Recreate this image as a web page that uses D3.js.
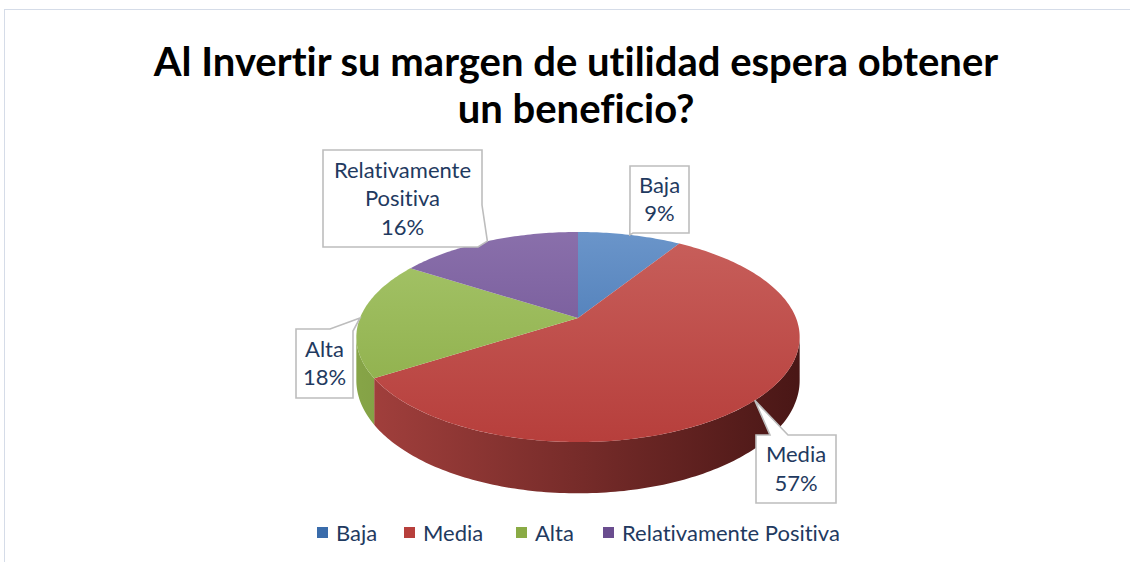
<!DOCTYPE html>
<html>
<head>
<meta charset="utf-8">
<script src="https://cdn.jsdelivr.net/npm/d3@7"></script>
<style>
  body { margin: 0; background: #fff; }
  svg { display: block; }
  text { font-family: Lato, "Open Sans", sans-serif; font-variant-ligatures: none; }
</style>
</head>
<body>
<div id="pie-chart"></div>
<script>
/* D3 3D pie chart */
const categories = ["Baja", "Media", "Alta", "Relativamente Positiva"];
const values = [9, 57, 18, 16];
const calloutLines = [["Baja"], ["Media"], ["Alta"], ["Relativamente", "Positiva"]];
const titleLines = ["Al Invertir su margen de utilidad espera obtener", "un beneficio?"];

const topColors = [["#6e98cc", "#3a6cab"], ["#c9625e", "#b73f3c"], ["#a8c76d", "#8aab45"], ["#8c72ad", "#6a4d8f"]];
const sideColors = [["#3f6ea9", "#1d3858"], ["#a3403d", "#4a1716"], ["#86a447", "#55692a"], ["#6d5090", "#3a2a4e"]];

const width = 1130, height = 562;
const cx = 578, cy = 318, rx = 218, ry = 101.6, P = 0.181, depth = 42;

const svg = d3.select("#pie-chart")
    .append("svg")
    .attr("width", width)
    .attr("height", height);

// chart area border
svg.append("rect")
    .attr("x", 4.5).attr("y", 9.5)
    .attr("width", 1200).attr("height", 700)
    .attr("fill", "none")
    .attr("stroke", "#d5dce8");

svg.append("g").selectAll("text")
    .data(titleLines)
    .join("text")
    .attr("x", 576)
    .attr("y", (d, i) => 76 + i * 47)
    .attr("text-anchor", "middle")
    .attr("font-size", 40)
    .attr("font-weight", "bold")
    .attr("fill", "#000")
    .text(d => d);

const arcs = d3.pie().sort(null).value(d => d)(values);
const total = d3.sum(values);

// perspective projection of an angle on the rim (clockwise from 12 o'clock)
function proj(a, z = 0) {
    const c = Math.sin(a), s = -Math.cos(a);
    const w = 1 / (1 - P * s);
    return [cx + rx * c * w, cy + ry * s * w + z * w];
}

function rim(a0, a1, z) {
    const n = Math.max(2, Math.ceil(Math.abs(a1 - a0) / (Math.PI / 180)));
    return d3.range(n + 1).map(i => proj(a0 + (a1 - a0) * i / n, z));
}

const defs = svg.append("defs");
arcs.forEach((d, i) => {
    const gt = defs.append("linearGradient")
        .attr("id", "top" + i)
        .attr("gradientUnits", "userSpaceOnUse")
        .attr("x1", 0).attr("y1", cy - ry)
        .attr("x2", 0).attr("y2", cy + ry * 1.2);
    gt.append("stop").attr("offset", 0).attr("stop-color", topColors[i][0]);
    gt.append("stop").attr("offset", 1).attr("stop-color", topColors[i][1]);

    const gs = defs.append("linearGradient")
        .attr("id", "side" + i)
        .attr("gradientUnits", "userSpaceOnUse")
        .attr("x1", cx - rx).attr("y1", 0)
        .attr("x2", cx + rx).attr("y2", 0);
    gs.append("stop").attr("offset", 0).attr("stop-color", sideColors[i][0]);
    gs.append("stop").attr("offset", 1).attr("stop-color", sideColors[i][1]);
});

const line = d3.line();

// visible part of the side wall
const sideStart = Math.acos(-P), sideEnd = 2 * Math.PI - Math.acos(-P);
const sides = svg.append("g");
arcs.forEach((d, i) => {
    const a0 = Math.max(d.startAngle, sideStart), a1 = Math.min(d.endAngle, sideEnd);
    if (a1 <= a0) return;
    const pts = rim(a0, a1, 0).concat(rim(a1, a0, depth));
    sides.append("path")
        .attr("d", line(pts) + "Z")
        .attr("fill", `url(#side${i})`);
});

const tops = svg.append("g");
arcs.forEach((d, i) => {
    const pts = [[cx, cy]].concat(rim(d.startAngle, d.endAngle, 0));
    tops.append("path")
        .attr("d", line(pts) + "Z")
        .attr("fill", `url(#top${i})`);
});

// callout boxes: [x0, y0, x1, y1], wedge from perimeter t1 to t2 (clockwise from top-left)
const boxes = [
    { b: [630, 166, 689, 233], t1: 59 + 67 + 56, t2: 2 * 59 + 67 + 28 },
    { b: [756, 435, 836, 503], t1: 14, t2: 32 },
    { b: [296, 329, 353, 398], t1: 34, t2: 57 + 2 },
    { b: [323, 150, 482, 247], t1: 159 + 55, t2: 159 + 97 + 4 }
];

function perim(b, t) {
    const w = b[2] - b[0], h = b[3] - b[1];
    if (t <= w) return [b[0] + t, b[1]];
    if (t <= w + h) return [b[2], b[1] + t - w];
    if (t <= 2 * w + h) return [b[2] - (t - w - h), b[3]];
    return [b[0], b[3] - (t - 2 * w - h)];
}

function calloutPath(box, tip) {
    const b = box.b, w = b[2] - b[0], h = b[3] - b[1];
    const corners = [[0, [b[0], b[1]]], [w, [b[2], b[1]]], [w + h, [b[2], b[3]]], [2 * w + h, [b[0], b[3]]]];
    const pts = [];
    corners.forEach(([t, p]) => {
        if (t > box.t1 && t < box.t2) return;
        pts.push({ t, p });
    });
    pts.push({ t: box.t1, p: perim(b, box.t1) });
    pts.push({ t: box.t1 + 0.001, p: tip });
    pts.push({ t: box.t2, p: perim(b, box.t2) });
    pts.sort((a, c) => a.t - c.t);
    return line(pts.map(d => d.p)) + "Z";
}

const callouts = svg.append("g");
arcs.forEach((d, i) => {
    const mid = (d.startAngle + d.endAngle) / 2;
    const tip = proj(mid, 0);
    const box = boxes[i];
    callouts.append("path")
        .attr("d", calloutPath(box, tip))
        .attr("fill", "#fff")
        .attr("stroke", "#bdbdbd")
        .attr("stroke-width", 1.6);
    const lines = calloutLines[i].concat([Math.round(d.value / total * 100) + "%"]);
    const bx = (box.b[0] + box.b[2]) / 2, by = (box.b[1] + box.b[3]) / 2;
    const lh = 28.5;
    callouts.append("g").selectAll("text")
        .data(lines)
        .join("text")
        .attr("x", bx)
        .attr("y", (t, j) => by + (j - (lines.length - 1) / 2) * lh)
        .attr("dy", "0.35em")
        .attr("text-anchor", "middle")
        .attr("font-size", 22)
        .attr("fill", "#1f3a60")
        .text(t => t);
});

// legend
const legendX = [317, 404, 516, 603];
const legend = svg.append("g").selectAll("g")
    .data(categories)
    .join("g")
    .attr("transform", (d, i) => `translate(${legendX[i]},527)`);

legend.append("rect")
    .attr("width", 11).attr("height", 11)
    .attr("fill", (d, i) => topColors[i][1]);

legend.append("text")
    .attr("x", 19)
    .attr("y", 6)
    .attr("dy", "0.35em")
    .attr("font-size", 22)
    .attr("fill", "#1f3a60")
    .text(d => d);
</script>
</body>
</html>
